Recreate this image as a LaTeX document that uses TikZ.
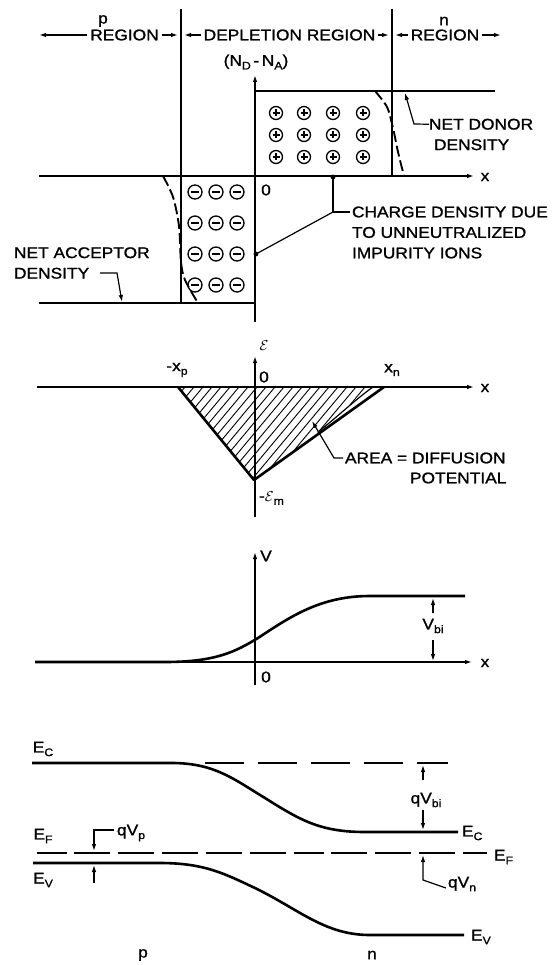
\documentclass[tikz,border=0pt]{standalone}
\usepackage{fontspec}
\setmainfont{Liberation Sans}[FakeStretch=1.12,FakeBold=1.2]
\usetikzlibrary{arrows.meta}
\newcommand\lsub[1]{\raisebox{-0.45ex}{\fontsize{11}{11}\selectfont #1}}
\begin{document}
\begin{tikzpicture}[x=1pt,y=-1pt,
  txt/.style={font=\fontsize{15.5}{20.5}\selectfont, inner sep=0pt, outer sep=0pt},
  axis/.style={line width=1.7pt},
  tipd/.style={-{Latex[length=7pt,width=4.5pt]}},
  band/.style={line width=2.6pt},
  lead/.style={line width=1.2pt},
  dashc/.style={line width=1.9pt, dash pattern=on 11pt off 4pt},
  hatch/.style={line width=0.9pt},
  ion/.style={line width=1.3pt}]
\useasboundingbox (0,0) rectangle (555,965);

% ---------- header ----------
\node[txt] (plab) at (103,21) {p};
\node[txt] (nlab) at (444,21) {n};
\node[txt] (preg) at (124.5,35) {REGION};
\node[txt] (dreg) at (289.5,35) {DEPLETION REGION};
\node[txt] (nreg) at (445,35) {REGION};
\coordinate (hL) at (39,35);
\coordinate (h1a) at (178,35);
\coordinate (h1b) at (184,35);
\coordinate (h2a) at (389,35);
\coordinate (h2b) at (395,35);
\coordinate (hR) at (501,35);
\draw[axis,tipd] ([xshift=-3pt]preg.west) -- (hL);
\draw[axis,tipd] ([xshift=3pt]preg.east) -- (h1a);
\draw[axis,tipd] ([xshift=-3pt]dreg.west) -- (h1b);
\draw[axis,tipd] ([xshift=3pt]dreg.east) -- (h2a);
\draw[axis,tipd] ([xshift=-3pt]nreg.west) -- (h2b);
\draw[axis,tipd] ([xshift=3pt]nreg.east) -- (hR);

\coordinate (b1t) at (181,9);  \coordinate (b1b) at (181,303);
\coordinate (b2t) at (392,9);  \coordinate (b2b) at (392,176);
\draw[axis] (b1t) -- (b1b);
\draw[axis] (b2t) -- (b2b);

% ---------- charge density panel ----------
\coordinate (y1b) at (255,322); \coordinate (y1t) at (255,75);
\coordinate (x1l) at (39,176);  \coordinate (x1r) at (474,176);
\draw[axis,tipd] (y1b) -- (y1t);
\draw[axis,tipd] (x1l) -- (x1r);
\node[txt] (x1lab) at (485,177) {x};
\node[txt] (o1lab) at (266,190) {0};
\node[txt] (ndna) at (256,62) {(N\lsub{D}\,-\,N\lsub{A})};
\coordinate (tl1) at (255,91); \coordinate (tl2) at (495,91);
\draw[axis] (tl1) -- (tl2);
\coordinate (bl1) at (39,303); \coordinate (bl2) at (255,303);
\draw[axis] (bl1) -- (bl2);

\foreach \cx in {276,304,333,363}
  \foreach \cy in {113,135,157} {
    \draw[ion] (\cx,\cy) circle (6.5);
    \draw[ion] (\cx-3.5,\cy) -- (\cx+3.5,\cy) (\cx,\cy-3.5) -- (\cx,\cy+3.5);
  }
\foreach \cx in {195,216,237}
  \foreach \cy in {192,223,254,285} {
    \draw[ion] (\cx,\cy) circle (7);
    \draw[ion] (\cx-4,\cy) -- (\cx+4,\cy);
  }

\draw[dashc] plot[smooth] coordinates {(375,91) (387,107) (393,128) (398,152) (404,176)};
\draw[dashc] plot[smooth] coordinates {(163,176) (173,197) (179,226) (181,262) (185,280) (198,303)};

% labels with leaders
\node[txt, align=left, anchor=west] (netd) at (429,134.5) {NET DONOR\\\hspace{5pt}DENSITY};
\coordinate (nd1) at (414,124); \coordinate (nd2) at (405,93);
\draw[lead,tipd] ([yshift=10.25pt]netd.west) -- (nd1) -- (nd2);

\node[txt, align=left, anchor=west] (neta) at (14,263) {NET ACCEPTOR\\DENSITY};
\coordinate (na0) at (100,273); \coordinate (na1) at (117,273); \coordinate (na2) at (122,302);
\draw[lead,tipd] (na0) -- (na1) -- (na2);

\node[txt, align=left, anchor=west] (chg) at (352,232.5) {CHARGE DENSITY DUE\\TO UNNEUTRALIZED\\IMPURITY IONS};
\coordinate (cd0) at (333,177); \coordinate (cdj) at (333,212); \coordinate (cd1) at (256,254);
\fill (cd0) circle (2.4);
\fill (cd1) circle (2.4);
\draw[lead] (cd0) -- (cdj) -- ([xshift=-2pt,yshift=20.5pt]chg.west);
\draw[lead] (cdj) -- (cd1);

% ---------- field panel ----------
\coordinate (y2b) at (255,517); \coordinate (y2t) at (255,356);
\coordinate (x2l) at (37,387);  \coordinate (x2r) at (474,387);
\coordinate (tA) at (178,387); \coordinate (tB) at (384,387); \coordinate (tC) at (254,480);
\coordinate (tI1) at (373,387); \coordinate (tI2) at (318,432);
\begin{scope}
  \clip (tA) -- (tI1) .. controls (356,399) and (336,418) .. (tI2) -- (tC) -- cycle;
  \foreach \i in {0,...,40} \draw[hatch] (90+\i*9,490) -- ++(96,-115);
\end{scope}
\draw[band, line join=round] (tA) -- (tC) -- (tB);
\draw[lead] (tI1) .. controls (356,399) and (336,418) .. (tI2);
\draw[axis,tipd] (x2l) -- (x2r);
\draw[axis,tipd] (y2b) -- (y2t);
\node[txt] (x2lab) at (485,388) {x};
\node[txt] (elab) at (264,346) {$\mathcal{E}$};
\node[txt] (o2lab) at (264,377) {0};
\node[txt] (xplab) at (177,370) {-x\lsub{p}};
\node[txt] (xnlab) at (392,370) {x\lsub{n}};
\node[txt, anchor=west] (emlab) at (259,498) {-$\mathcal{E}$\lsub{m}};
\node[txt, anchor=west] (area1) at (345,458) {AREA = DIFFUSION};
\node[txt, anchor=west] (area2) at (410,478) {POTENTIAL};
\coordinate (ar1) at (334,458); \coordinate (ar2) at (312,421);
\draw[lead,tipd] ([xshift=-2pt]area1.west) -- (ar1) -- (ar2);

% ---------- potential panel ----------
\coordinate (y3b) at (255,685); \coordinate (y3t) at (255,552);
\coordinate (x3l) at (35,662);  \coordinate (x3r) at (472,662);
\draw[axis,tipd] (y3b) -- (y3t);
\draw[axis,tipd] (x3l) -- (x3r);
\node[txt] (vlab) at (266,556) {V};
\node[txt] (x3lab) at (485,663) {x};
\node[txt] (o3lab) at (266,677) {0};
\draw[band] (35,662) -- (165,662) .. controls (215,662) and (235,652) .. (258,638)
  .. controls (290,617) and (320,596) .. (370,596) -- (465,596);
\node[txt] (vbi) at (433,626) {V\lsub{bi}};
\coordinate (vb1) at (433,613); \coordinate (vb2) at (433,598);
\coordinate (vb3) at (433,640); \coordinate (vb4) at (433,661);
\draw[lead,tipd] (vb1) -- (vb2);
\draw[lead,tipd] (vb3) -- (vb4);

% ---------- band diagram ----------
\draw[band] (32,763) -- (172,763) .. controls (215,763) and (235,780) .. (265,798)
  .. controls (300,820) and (320,832) .. (365,832) -- (458,832);
\draw[band] (33,863) -- (160,863) .. controls (205,863) and (225,874) .. (255,888)
  .. controls (300,910) and (325,935) .. (370,935) -- (464,935);
\coordinate (ecd1) at (205,763); \coordinate (ecd2) at (448,763);
\draw[line width=1.7pt, dash pattern=on 39pt off 14pt] (ecd1) -- (ecd2);
\coordinate (ef1) at (37,853); \coordinate (ef2) at (487,853);
\draw[line width=1.7pt, dash pattern=on 30pt off 7pt on 36pt off 8pt on 36pt off 8pt on 36pt off 8pt on 36pt off 8pt on 36pt off 8pt] (ef1) -- (ef2);

\node[txt] (ecl) at (43,749) {E\lsub{C}};
\node[txt, anchor=west] (ecr) at (462,833) {E\lsub{C}};
\node[txt] (efl) at (43,836) {E\lsub{F}};
\node[txt, anchor=west] (efr) at (494,857) {E\lsub{F}};
\node[txt] (evl) at (43,880) {E\lsub{V}};
\node[txt, anchor=west] (evr) at (471,937) {E\lsub{V}};

\node[txt] (qvbi) at (426,800) {qV\lsub{bi}};
\coordinate (qb1) at (423,780); \coordinate (qb2) at (423,765);
\coordinate (qb3) at (423,810); \coordinate (qb4) at (423,830);
\draw[lead,tipd] (qb1) -- (qb2);
\draw[lead,tipd] (qb3) -- (qb4);

\node[txt, anchor=west] (qvp) at (117,833) {qV\lsub{p}};
\coordinate (qp0) at (94,830); \coordinate (qp1) at (94,851);
\coordinate (qp2) at (94,883); \coordinate (qp3) at (94,865);
\draw[lead,tipd] ([xshift=-3pt,yshift=3pt]qvp.west) -- (qp0) -- (qp1);
\draw[lead,tipd] (qp2) -- (qp3);

\node[txt, anchor=west] (qvn) at (448,884) {qV\lsub{n}};
\coordinate (qn0) at (423,880); \coordinate (qn1) at (423,855);
\draw[lead,tipd] ([xshift=-2pt,yshift=-4pt]qvn.west) -- (qn0) -- (qn1);

\node[txt] (pbot) at (143,955) {p};
\node[txt] (nbot) at (372,955) {n};
\end{tikzpicture}
\end{document}
